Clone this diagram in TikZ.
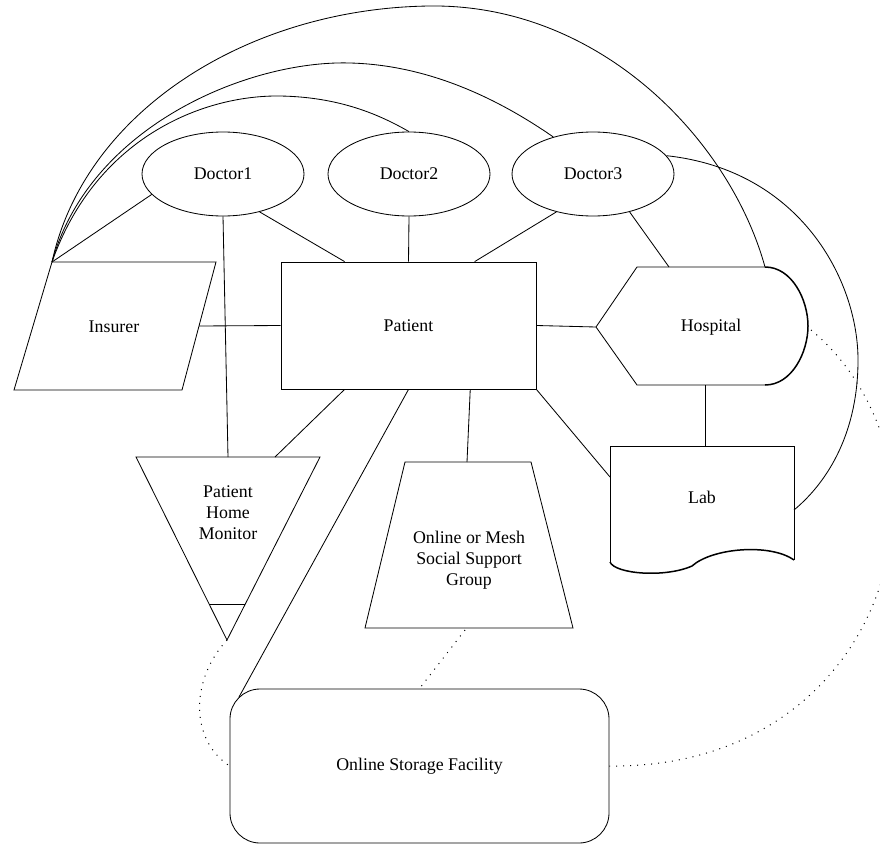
\documentclass[tikz,border=0pt]{standalone}
\usepackage{fontspec}
\setmainfont{Liberation Serif}
\newfontfamily\diagfont{Liberation Serif}
\usetikzlibrary{shapes.geometric}

\begin{document}
\begin{tikzpicture}[x=0.6pt,y=-0.6pt,line width=0.5pt,
    every node/.style={font=\diagfont\fontsize{10.7}{12.6}\selectfont},
    doctor/.style={draw,ellipse,minimum width=97.2pt,minimum height=50.4pt,inner sep=0pt},
    patbox/.style={draw,rectangle,minimum width=153pt,minimum height=76.2pt},
    storebox/.style={draw,rectangle,rounded corners=18pt,minimum width=227.4pt,minimum height=92.4pt},
    tag/.style={align=center,inner sep=0pt},
    thickrim/.style={line width=0.9pt},
    softlink/.style={line width=0.6pt,dash pattern=on 0.6pt off 3.6pt}]
        \useasboundingbox (0,0) rectangle (880,845);
        \clip (0,0) rectangle (880,845);
        \node[doctor] (doc1) at (223,174) {Doctor1};
        \node[doctor] (doc2) at (409,174) {Doctor2};
        \node[doctor] (doc3) at (593,174) {Doctor3};
        \node[patbox] (pat) at (408.5,325.5) {Patient};
        \node[storebox] (stor) at (419.5,766) {Online Storage Facility};
        % insurer
        \coordinate (ins-tl) at (52,262);
        \coordinate (ins-tr) at (216,262);
        \coordinate (ins-br) at (182,390);
        \coordinate (ins-bl) at (14,390);
        \coordinate (ins-e) at (199,326);
        \draw (ins-tl) -- (ins-tr) -- (ins-br) -- (ins-bl) -- cycle;
        \node[tag] (ins) at (114,327) {Insurer};
        % hospital
        \coordinate (hos-w) at (596,327);
        \coordinate (hos-tl) at (637,267);
        \coordinate (hos-tr) at (765,267);
        \coordinate (hos-br) at (765,385);
        \coordinate (hos-bl) at (637,385);
        \coordinate (hos-n) at (669,267);
        \coordinate (hos-s) at (705,385);
        \coordinate (hos-e) at (811,330);
        \draw (hos-tr) -- (hos-tl) -- (hos-w) -- (hos-bl) -- (hos-br);
        \draw[thickrim] (hos-tr) .. controls (792,267) and (808,300) .. (808,326) .. controls (808,352) and (792,385) .. (hos-br);
        \node[tag] (hos) at (711,327) {Hospital};
        % lab
        \coordinate (lab-tl) at (610,446);
        \coordinate (lab-tr) at (794,446);
        \coordinate (lab-br) at (794,560);
        \coordinate (lab-bl) at (610,562);
        \coordinate (lab-n) at (705,446);
        \coordinate (lab-w) at (610,477);
        \coordinate (lab-e) at (794,510);
        \draw (lab-bl) -- (lab-tl) -- (lab-tr) -- (lab-br);
        \draw[thickrim] (lab-bl) .. controls (615,574) and (665,578) .. (692,566) .. controls (712,548) and (770,543) .. (lab-br);
        \node[tag] (lab) at (702,497) {Lab};
        % patient home monitor
        \coordinate (phm-tl) at (136,457);
        \coordinate (phm-tr) at (320,457);
        \coordinate (phm-s) at (227,640);
        \coordinate (phm-n) at (228,457);
        \coordinate (phm-ne) at (275,457);
        \draw (phm-tl) -- (phm-tr) -- (phm-s) -- cycle;
        \draw (209,604) -- (245,604);
        \node[tag] (phm) at (228,513) {Patient\\Home\\Monitor};
        % support group
        \coordinate (sup-tl) at (405,462);
        \coordinate (sup-tr) at (531,462);
        \coordinate (sup-br) at (573,628);
        \coordinate (sup-bl) at (365,628);
        \coordinate (sup-n) at (467,462);
        \coordinate (sup-s) at (465,630);
        \draw (sup-tl) -- (sup-tr) -- (sup-br) -- (sup-bl) -- cycle;
        \node[tag] (sup) at (469,560) {Online or Mesh\\Social Support\\Group};
        \coordinate (stor-nw) at (239,697);
        % links
        \draw (doc1.196) -- (ins-tl);
        \draw (doc1.south) -- (phm-n);
        \draw (doc1.314) -- (pat.135.5);
        \draw (doc2.south) -- (pat.north);
        \draw (doc3.226) -- (pat.44);
        \draw (doc3.314) -- (hos-n);
        \draw (ins-e) -- (pat.west);
        \draw (pat.east) -- (hos-w);
        \draw (hos-s) -- (lab-n);
        \draw (pat.south east) -- (lab-w);
        \draw (pat.225) -- (phm-ne);
        \draw (pat.south) -- (stor-nw);
        \draw (pat.314) -- (sup-n);
        % long arcs
        \draw (ins-tl) .. controls (85,110) and (250,8) .. (430,6) .. controls (600,4) and (730,140) .. (hos-tr);
        \draw (ins-tl) .. controls (90,125) and (250,60) .. (350,63) .. controls (430,65) and (500,100) .. (doc3.137);
        \draw (ins-tl) .. controls (95,140) and (200,95) .. (280,96) .. controls (340,97) and (380,115) .. (doc2.north);
        \draw (doc3.14) .. controls (800,170) and (858,280) .. (858,360) .. controls (858,430) and (830,480) .. (lab-e);
        % dotted links
        \draw[softlink] (hos-e) .. controls (860,370) and (895,440) .. (893,510) .. controls (890,640) and (790,768) .. (stor.east);
        \draw[softlink] (phm-s) .. controls (190,680) and (190,740) .. (stor.west);
        \draw[softlink] (sup-s) -- (stor.north);
\end{tikzpicture}
\end{document}
